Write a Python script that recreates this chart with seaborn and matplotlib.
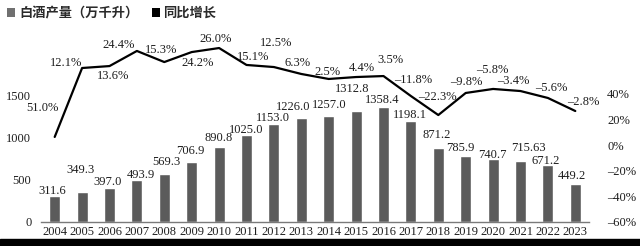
import matplotlib
matplotlib.use("Agg")
import matplotlib.pyplot as plt
from matplotlib.patches import Patch, Rectangle
import seaborn as sns
import pandas as pd

years = [str(y) for y in range(2004, 2024)]
production = [311.6, 349.3, 397.0, 493.9, 569.3, 706.9, 890.8, 1025.0, 1153.0, 1226.0,
              1257.0, 1312.8, 1358.4, 1198.1, 871.2, 785.9, 740.7, 715.63, 671.2, 449.2]
production_labels = ["311.6", "349.3", "397.0", "493.9", "569.3", "706.9", "890.8", "1025.0",
                     "1153.0", "1226.0", "1257.0", "1312.8", "1358.4", "1198.1", "871.2",
                     "785.9", "740.7", "715.63", "671.2", "449.2"]
growth_labels = ["51.0%", "12.1%", "13.6%", "24.4%", "15.3%", "24.2%", "26.0%", "15.1%",
                 "12.5%", "6.3%", "2.5%", "4.4%", "3.5%", "–11.8%", "–22.3%", "–9.8%",
                 "–5.8%", "–3.4%", "–5.6%", "–2.8%"]
# line as drawn in the picture (hidden scale)
line_values = [-38.1, 11.6, 13.0, 23.9, 15.9, 23.1, 26.0, 13.8, 12.3, 7.3,
               3.7, 5.1, 5.8, -8.6, -22.3, -6.4, -3.5, -5.0, -10.0, -19.4]
right_ticks = [-60, -40, -20, 0, 20, 40]
right_tick_labels = ["–60%", "–40%", "–20%", "0%", "20%", "40%"]
left_ticks = [0, 500, 1000, 1500]
legend_labels = ["白酒产量（万千升）", "同比增长"]

# label offsets in pixels (dx, dy)
bar_label_off = [(-2, 5), (-2, 22), (-2, 6), (4, 5), (2, 12), (-1, 11), (0, 9), (0, 5),
                 (-1, 6), (-8, 11), (1, 11), (-4, 22), (-1, 7), (-1, 6), (-2, 13),
                 (-5, 8), (-1, 4), (8, 13), (-2, 4), (-3, 8)]
growth_label_off = [(-12, 29), (-16, 5), (4, -10), (-18, 6), (-3, 12), (6, -11), (-3, 9),
                    (7, 8), (2, 24), (-4, 11), (-1, 7), (6, 9), (7, 16), (2, 16), (-1, 18),
                    (1, 11), (-1, 19), (-7, 10), (3, 10), (8, 9)]

sns.set_theme(style="white")
plt.rcParams['font.family'] = ['Liberation Serif', 'DejaVu Serif']

W, H = 640, 246
fig = plt.figure(figsize=(W / 100, H / 100), dpi=100)
left, right, bottom, top = 41, 589, 222, 30
ax = fig.add_axes([left / W, 1 - bottom / H, (right - left) / W, (bottom - top) / H])

bar_color = "#5b5b5b"
text_color = "#1e1e1e"
df = pd.DataFrame({"year": years, "production": production})
sns.barplot(data=df, x="year", y="production", color=bar_color, width=0.4,
            saturation=1, ax=ax)
ax.set_xlim(-0.5, 19.5)
ax.set_ylim(0, (bottom - top) / 0.0846)
ax.set_yticks(left_ticks)
ax.set_yticklabels([str(t) for t in left_ticks])
ax.set_xlabel("")
ax.set_ylabel("")
for s in ["top", "left", "right"]:
    ax.spines[s].set_visible(False)
ax.spines["bottom"].set_color("#7a7a7a")
ax.spines["bottom"].set_linewidth(1.0)
ax.tick_params(axis="both", length=0, labelsize=9, colors=text_color)
ax.tick_params(axis="y", pad=7)
ax.tick_params(axis="x", pad=3)

for i, (v, lab) in enumerate(zip(production, production_labels)):
    dx, dy = bar_label_off[i]
    ax.annotate(lab, xy=(i, v), xytext=(dx, dy), textcoords="offset pixels",
                ha="center", va="center", fontsize=9, color=text_color)

# right axis with percentage ticks
ax3 = ax.twinx()
ax3.set_ylim(-60, -60 + (bottom - top) / 1.28)
ax3.set_yticks(right_ticks)
ax3.set_yticklabels(right_tick_labels)
ax3.tick_params(axis="y", length=0, labelsize=9, colors=text_color, pad=13)
for s in ax3.spines.values():
    s.set_visible(False)
ax3.grid(False)

# hidden axis for the growth line
ax2 = ax.twinx()
k = 1.387
zero_px = 84.1
ax2.set_ylim(-(bottom - zero_px) / k, (zero_px - top) / k)
sns.lineplot(x=list(range(len(years))), y=line_values, color="black", linewidth=1.6,
             ax=ax2)
ax2.set_yticks([])
for s in ax2.spines.values():
    s.set_visible(False)
ax2.grid(False)
for i, lab in enumerate(growth_labels):
    dx, dy = growth_label_off[i]
    ax2.annotate(lab, xy=(i, line_values[i]), xytext=(dx, dy), textcoords="offset pixels",
                 ha="center", va="center", fontsize=9, color=text_color)

handles = [Patch(facecolor="#707070", edgecolor="none"), Patch(facecolor="black", edgecolor="none")]
fig.legend(handles, legend_labels, loc="center left", bbox_to_anchor=(2 / W, 1 - 13 / H),
           ncol=2, frameon=False, handlelength=0.6, handleheight=0.6, handletextpad=0.3,
           columnspacing=1.0, borderaxespad=0,
           prop={"family": ["Noto Sans CJK SC", "DejaVu Sans"], "size": 9.5, "weight": "bold"},
           labelcolor="#2a2a2a")

fig.add_artist(Rectangle((0, 0), 1, 7 / H, transform=fig.transFigure, color="black",
                         zorder=10))

fig.savefig("out.png", dpi=100)
